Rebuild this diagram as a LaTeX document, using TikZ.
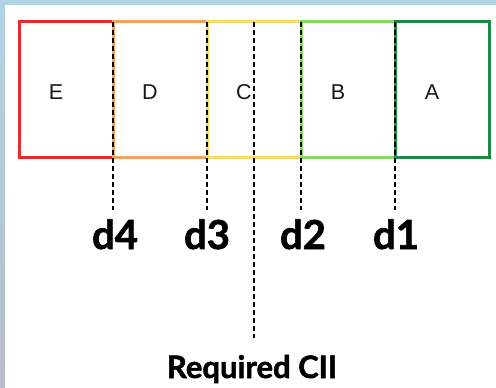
\documentclass[tikz,border=0pt]{standalone}
\usepackage{fontspec}
\setmainfont{Liberation Sans}
\newfontfamily\boldlab[BoldFeatures={FakeBold=1.6}]{Lato}
\definecolor{cE}{HTML}{EA2A2E}
\definecolor{cD}{HTML}{F5A05E}
\definecolor{cC}{HTML}{F9DA66}
\definecolor{cB}{HTML}{86D95E}
\definecolor{cA}{HTML}{1C8A45}
\definecolor{bgtop}{HTML}{B2D4E6}
\definecolor{bgbot}{HTML}{B6BDC8}
\begin{document}
\begin{tikzpicture}[x=1pt,y=-1pt,
  box/.style={draw, line width=3pt, minimum width=94pt, minimum height=135.5pt, inner sep=0pt, outer sep=0pt},
  boxlab/.style={font=\fontsize{21.5}{21.5}\selectfont, inner sep=0pt, text=black!90},
  dline/.style={draw=black, line width=2.6pt, dash pattern=on 5pt off 3pt},
  dlab/.style={font=\boldlab\bfseries\fontsize{40}{40}\selectfont, anchor=base, inner sep=0pt},
  reqlab/.style={font=\boldlab\bfseries\fontsize{31}{31}\selectfont, anchor=base, inner sep=0pt}]
\shade[top color=bgtop, bottom color=bgbot] (0,0) rectangle (496,388);
\fill[white] (5,5) rectangle (496,388);
\useasboundingbox (0,0) rectangle (496,388);
% boxes
\node[box, draw=cE] (E) at (66,89.5) {};
\node[box, draw=cD] (D) at (160,89.5) {};
\node[box, draw=cC] (C) at (254,89.5) {};
\node[box, draw=cB] (B) at (348,89.5) {};
\node[box, draw=cA] (A) at (442,89.5) {};
\node[boxlab] (tE) at ([xshift=-10pt,yshift=-2.5pt]E.center) {E};
\node[boxlab] (tD) at ([xshift=-10pt,yshift=-2.5pt]D.center) {D};
\node[boxlab] (tC) at ([xshift=-10pt,yshift=-2.5pt]C.center) {C};
\node[boxlab] (tB) at ([xshift=-10pt,yshift=-2.5pt]B.center) {B};
\node[boxlab] (tA) at ([xshift=-10pt,yshift=-2.5pt]A.center) {A};
% labels
\node[dlab] (d4) at (115,249) {d4};
\node[dlab] (d3) at (207,249) {d3};
\node[dlab] (d2) at (303,249) {d2};
\node[dlab] (d1) at (396,249) {d1};
\node[reqlab] (req) at (252,378) {Required CII};
% ends of dashed lines
\coordinate (e4) at (113,210);
\coordinate (e3) at (207,210);
\coordinate (e2) at (301,210);
\coordinate (e1) at (395,210);
\coordinate (er) at (254,338);
\path[dline] (E.north east) -- (e4);
\path[dline] (D.north east) -- (e3);
\path[dline] (C.north east) -- (e2);
\path[dline] (B.north east) -- (e1);
\path[dline] (C.north) -- (er);
\end{tikzpicture}
\end{document}
